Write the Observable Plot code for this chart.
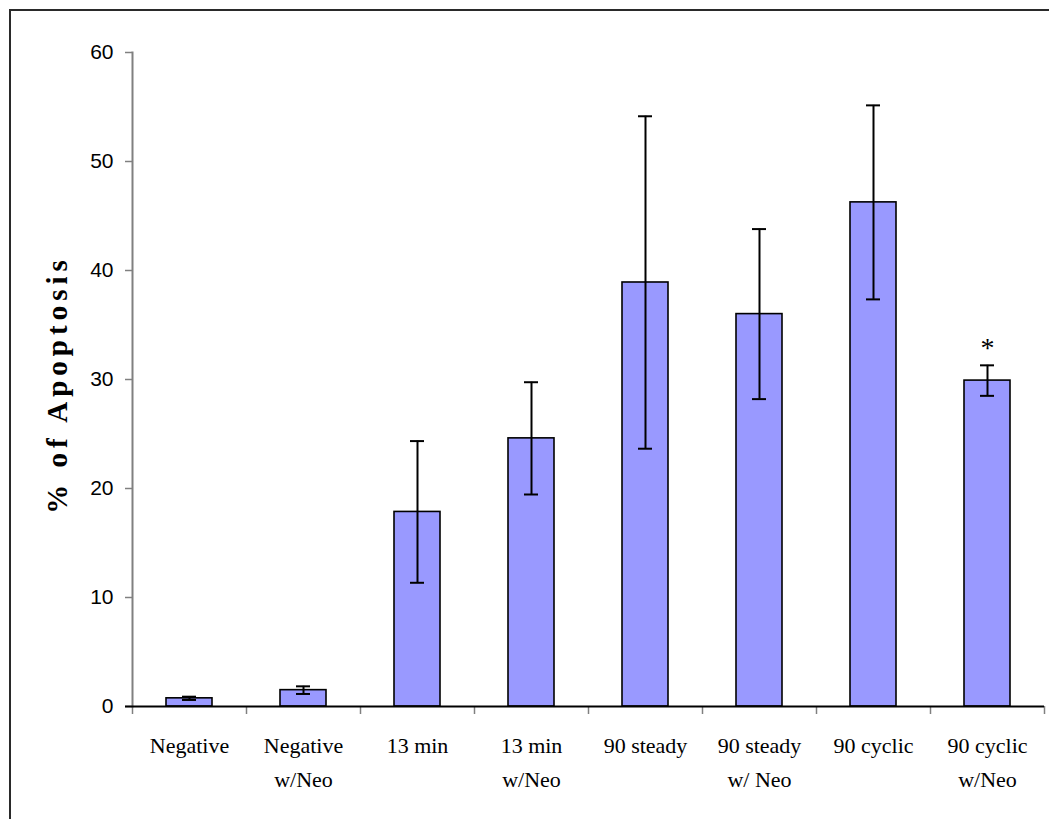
<!DOCTYPE html>
<html>
<head>
<meta charset="utf-8">
<script src="https://cdn.jsdelivr.net/npm/d3@7"></script>
<script src="https://cdn.jsdelivr.net/npm/@observablehq/plot@0.6"></script>
<style>
  html, body { margin: 0; padding: 0; background: #fff; overflow: hidden; }
  #wrap { position: relative; width: 1049px; height: 819px; }
  #border { position: absolute; left: 9px; top: 9px; width: 1100px; height: 900px;
            border-left: 2px solid #2a2a2a; border-top: 2px solid #2a2a2a; pointer-events: none; }
  #chart { position: absolute; left: 0; top: 0; }
</style>
</head>
<body>
<div id="wrap"><div id="chart"></div><div id="border"></div></div>
<script>
// ---- data ----
const categories = ["Negative", "Negative\nw/Neo", "13 min", "13 min\nw/Neo", "90 steady", "90 steady\nw/ Neo", "90 cyclic", "90 cyclic\nw/Neo"];
const values = [0.75, 1.5, 17.85, 24.6, 38.9, 36.0, 46.25, 29.9];
const errors = [0.15, 0.35, 6.5, 5.15, 15.25, 7.8, 8.9, 1.4];
const marks = ["", "", "", "", "", "", "", "*"];
const yTicks = [0, 10, 20, 30, 40, 50, 60];
const yLabel = "% of Apoptosis";

const table = categories.map((c, i) => ({cat: c, v: values[i], lo: values[i] - errors[i], hi: values[i] + errors[i], m: marks[i]}));

const W = 1049, H = 819, ML = 132, MR = 5, MT = 52, MB = 113;
const step = (W - ML - MR) / categories.length;

const chart = Plot.plot({
  width: W, height: H,
  marginLeft: ML, marginRight: MR, marginTop: MT, marginBottom: MB,
  style: {background: "transparent", overflow: "visible"},
  x: {domain: categories, paddingInner: 0.6, paddingOuter: 0.3, label: null},
  y: {domain: [0, 60], label: null},
  marks: [
    Plot.barY(table, {x: "cat", y: "v", fill: "#9999ff", stroke: "black", strokeWidth: 1.6}),
    Plot.ruleX(table, {x: "cat", y1: "lo", y2: "hi", stroke: "black", strokeWidth: 2}),
    Plot.tickY(table, {x: "cat", y: "lo", stroke: "black", strokeWidth: 2, insetLeft: 16, insetRight: 16}),
    Plot.tickY(table, {x: "cat", y: "hi", stroke: "black", strokeWidth: 2, insetLeft: 16, insetRight: 16}),
    Plot.text(table, {x: "cat", y: "hi", text: "m", dy: -17, fontSize: 28, fontFamily: "Liberation Serif", fill: "black", lineAnchor: "middle"}),
    // axes
    Plot.axisY(yTicks, {tickSize: 7, tickPadding: 12, stroke: "#808080", strokeWidth: 1.5, fill: "black", fontSize: 21, fontFamily: "Liberation Sans, Arial, sans-serif", label: null}),
    Plot.frame({anchor: "left", stroke: "#808080", strokeWidth: 2}),
    Plot.axisX(categories, {tickSize: 8, tickFormat: () => "", dx: -step / 2, stroke: "#808080", strokeWidth: 1.5, label: null}),
    Plot.axisX([categories[categories.length - 1]], {tickSize: 8, tickFormat: () => "", dx: step / 2, stroke: "#808080", strokeWidth: 1.5, label: null}),
    Plot.axisX(categories, {tickSize: 0, tickPadding: 22, fontSize: 22, lineHeight: 1.55, fontFamily: "Liberation Serif, Times New Roman, serif", fill: "black", label: null}),
    Plot.ruleY([0], {stroke: "black", strokeWidth: 1.8, insetLeft: -7}),
    Plot.text([yLabel], {frameAnchor: "left", textAnchor: "middle", dx: -66, dy: 5, rotate: -90, lineAnchor: "bottom", fontSize: 29, fontWeight: "bold", fontFamily: "Liberation Serif, Times New Roman, serif", fill: "black"})
  ]
});
document.getElementById("chart").appendChild(chart);
chart.querySelectorAll("text").forEach(t => { if (t.textContent === yLabel) t.setAttribute("letter-spacing", "5"); });
</script>
</body>
</html>
